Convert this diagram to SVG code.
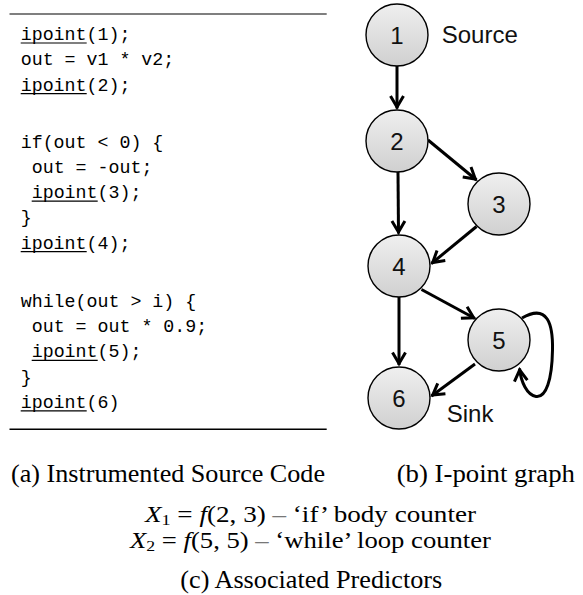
<svg xmlns="http://www.w3.org/2000/svg" width="583" height="595" viewBox="0 0 583 595">
<style>
.code{font-family:"Liberation Mono",monospace;font-size:18.3px;fill:#000}
.ul{stroke:#000;stroke-width:1.2}
.node circle{fill:url(#g);stroke:#000;stroke-width:1.4}
.node text{font-family:"Liberation Sans",Arial,sans-serif;font-size:24px;text-anchor:middle;fill:#111}
.lbl{font-family:"Liberation Sans",Arial,sans-serif;font-size:24px;fill:#111}
.edge{fill:none;stroke:#000;stroke-width:3;marker-end:url(#ah)}
.cap{font-family:"Liberation Serif","Times New Roman",serif;font-size:25px;fill:#000}
.math{font-family:"Liberation Serif","Times New Roman",serif;font-size:22.5px;fill:#000}
</style>
<defs>
<linearGradient id="g" x1="0" y1="0" x2="0" y2="1">
<stop offset="0" stop-color="#efefef"/>
<stop offset="1" stop-color="#d0d0d0"/>
</linearGradient>
<marker id="ah" markerUnits="userSpaceOnUse" viewBox="-14 -10 20 20" markerWidth="20" markerHeight="20" refX="1.5" refY="0" orient="auto" overflow="visible">
<path d="M-11,-6.5 L0,0 L-11,6.5" fill="none" stroke="#000" stroke-width="3"/>
</marker>
</defs>
<rect width="583" height="595" fill="#fff"/>

<g id="code">
<line x1="9.5" y1="14" x2="326.7" y2="14" stroke="#555" stroke-width="1.5"/>
<line x1="9.5" y1="429.3" x2="326.7" y2="429.3" stroke="#000" stroke-width="1.5"/>
<text class="code" x="20.7" y="40">ipoint(1);</text>
<line class="ul" x1="20.7" y1="43" x2="86.7" y2="43"/>
<text class="code" x="20.7" y="65.3">out = v1 * v2;</text>
<text class="code" x="20.7" y="90.6">ipoint(2);</text>
<line class="ul" x1="20.7" y1="93.6" x2="86.7" y2="93.6"/>
<text class="code" x="20.7" y="147.5">if(out &lt; 0) {</text>
<text class="code" x="31.7" y="172.8">out = -out;</text>
<text class="code" x="31.7" y="198.1">ipoint(3);</text>
<line class="ul" x1="31.7" y1="201.1" x2="97.7" y2="201.1"/>
<text class="code" x="20.7" y="223.4">}</text>
<text class="code" x="20.7" y="248.7">ipoint(4);</text>
<line class="ul" x1="20.7" y1="251.7" x2="86.7" y2="251.7"/>
<text class="code" x="20.7" y="306.7">while(out &gt; i) {</text>
<text class="code" x="31.7" y="332">out = out * 0.9;</text>
<text class="code" x="31.7" y="357.3">ipoint(5);</text>
<line class="ul" x1="31.7" y1="360.3" x2="97.7" y2="360.3"/>
<text class="code" x="20.7" y="382.6">}</text>
<text class="code" x="20.7" y="407.9">ipoint(6)</text>
<line class="ul" x1="20.7" y1="410.9" x2="86.7" y2="410.9"/>
</g>

<g id="edges">
<line class="edge" x1="397" y1="66" x2="397" y2="108.5"/>
<line class="edge" x1="428" y1="140" x2="476.5" y2="180"/>
<line class="edge" x1="398" y1="172" x2="398.5" y2="233.5"/>
<line class="edge" x1="476.5" y1="226.5" x2="431.5" y2="263.5"/>
<line class="edge" x1="421.5" y1="289.5" x2="475" y2="318.5"/>
<line class="edge" x1="399" y1="297" x2="399" y2="365"/>
<line class="edge" x1="475" y1="364" x2="431.5" y2="396"/>
<path class="edge" d="M522,318 C548,303 553,325 552.5,350 C552,380 546,398 536,396.5 C527,395 521,382 519.5,368.5"/>
</g>

<g id="n1" class="node"><circle cx="397" cy="35" r="31"/><text x="397" y="44">1</text></g>
<g id="n2" class="node"><circle cx="397" cy="141" r="31"/><text x="397" y="150">2</text></g>
<g id="n3" class="node"><circle cx="499" cy="204" r="31"/><text x="499" y="213">3</text></g>
<g id="n4" class="node"><circle cx="399" cy="266" r="31"/><text x="399" y="275">4</text></g>
<g id="n5" class="node"><circle cx="499" cy="340" r="31"/><text x="499" y="349">5</text></g>
<g id="n6" class="node"><circle cx="399" cy="398" r="31"/><text x="399" y="407">6</text></g>

<text class="lbl" x="441.7" y="43">Source</text>
<text class="lbl" x="446.7" y="421.7">Sink</text>

<g id="captions">
<text class="cap" x="11" y="481.7" textLength="314" lengthAdjust="spacingAndGlyphs">(a) Instrumented Source Code</text>
<text class="cap" x="396.7" y="481.7" textLength="178.3" lengthAdjust="spacingAndGlyphs">(b) I-point graph</text>
<text class="math" x="145" y="521.7" textLength="331" lengthAdjust="spacingAndGlyphs"><tspan font-style="italic">X</tspan><tspan font-size="15" dy="3">1</tspan><tspan dy="-3"> = </tspan><tspan font-style="italic">f</tspan>(2, 3) <tspan fill="#777">–</tspan> ‘if’ body counter</text>
<text class="math" x="130" y="548.3" textLength="361" lengthAdjust="spacingAndGlyphs"><tspan font-style="italic">X</tspan><tspan font-size="15" dy="3">2</tspan><tspan dy="-3"> = </tspan><tspan font-style="italic">f</tspan>(5, 5) <tspan fill="#777">–</tspan> ‘while’ loop counter</text>
<text class="cap" x="180.3" y="588.3" textLength="262" lengthAdjust="spacingAndGlyphs">(c) Associated Predictors</text>
</g>
</svg>
